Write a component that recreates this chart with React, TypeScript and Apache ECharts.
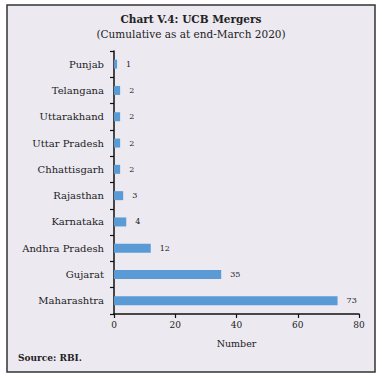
import React, { useEffect, useRef } from "react";
import * as echarts from "echarts";

const categories = [
  "Punjab",
  "Telangana",
  "Uttarakhand",
  "Uttar Pradesh",
  "Chhattisgarh",
  "Rajasthan",
  "Karnataka",
  "Andhra Pradesh",
  "Gujarat",
  "Maharashtra",
];
const mergers = [1, 2, 2, 2, 2, 3, 4, 12, 35, 73];
const xTicks = { min: 0, max: 80, interval: 20 };
const titleText = "Chart V.4: UCB Mergers";
const subtitleText = "(Cumulative as at end-March 2020)";
const sourceText = "Source: RBI.";
const xAxisName = "Number";

const FONT = "DejaVu Serif";

export default function App() {
  const ref = useRef<HTMLDivElement>(null);
  useEffect(() => {
    if (!ref.current) return;
    const chart = echarts.init(ref.current, null, { renderer: "svg" });
    chart.setOption({
      animation: false,
      backgroundColor: "#ffffff",
      graphic: [
        {
          type: "rect",
          z: -10,
          shape: { x: 7, y: 5, width: 368, height: 367 },
          style: { fill: "#ECE9F1", stroke: "#333333", lineWidth: 1.5 },
        },
        {
          type: "text",
          x: 191,
          y: 19,
          style: {
            text: titleText,
            font: `bold 10.5px "${FONT}"`,
            fill: "#222222",
            align: "center",
            verticalAlign: "middle",
          },
        },
        {
          type: "text",
          x: 191,
          y: 34,
          style: {
            text: subtitleText,
            font: `10.5px "${FONT}"`,
            fill: "#222222",
            align: "center",
            verticalAlign: "middle",
          },
        },
        {
          type: "text",
          x: 18,
          y: 358,
          style: {
            text: sourceText,
            font: `bold 9px "${FONT}"`,
            fill: "#222222",
            align: "left",
            verticalAlign: "middle",
          },
        },
      ],
      grid: { left: 114, right: 23, top: 51, bottom: 66, containLabel: false },
      xAxis: {
        type: "value",
        min: xTicks.min,
        max: xTicks.max,
        interval: xTicks.interval,
        name: xAxisName,
        nameLocation: "middle",
        nameGap: 24,
        nameTextStyle: { fontFamily: FONT, fontSize: 9.5, color: "#222222" },
        axisLine: { show: true, lineStyle: { color: "#111111", width: 1.5 } },
        axisTick: { show: true, length: 4, lineStyle: { color: "#111111", width: 1.2 } },
        axisLabel: { fontFamily: FONT, fontSize: 9, color: "#222222", margin: 6 },
        splitLine: { show: false },
      },
      yAxis: {
        type: "category",
        inverse: true,
        data: categories,
        axisLine: { show: true, lineStyle: { color: "#111111", width: 1.5 } },
        axisTick: { show: true, length: 4, lineStyle: { color: "#111111", width: 1.2 } },
        axisLabel: { fontFamily: FONT, fontSize: 10, color: "#222222", margin: 10 },
      },
      series: [
        {
          type: "bar",
          data: mergers,
          barWidth: 9,
          itemStyle: { color: "#5B9BD5" },
          label: {
            show: true,
            position: "right",
            distance: 9,
            fontFamily: FONT,
            fontSize: 8,
            color: "#222222",
          },
        },
      ],
    });
    return () => chart.dispose();
  }, []);
  return (
    <div
      ref={ref}
      style={{ position: "fixed", left: 0, top: 0, width: 382, height: 380 }}
    />
  );
}
